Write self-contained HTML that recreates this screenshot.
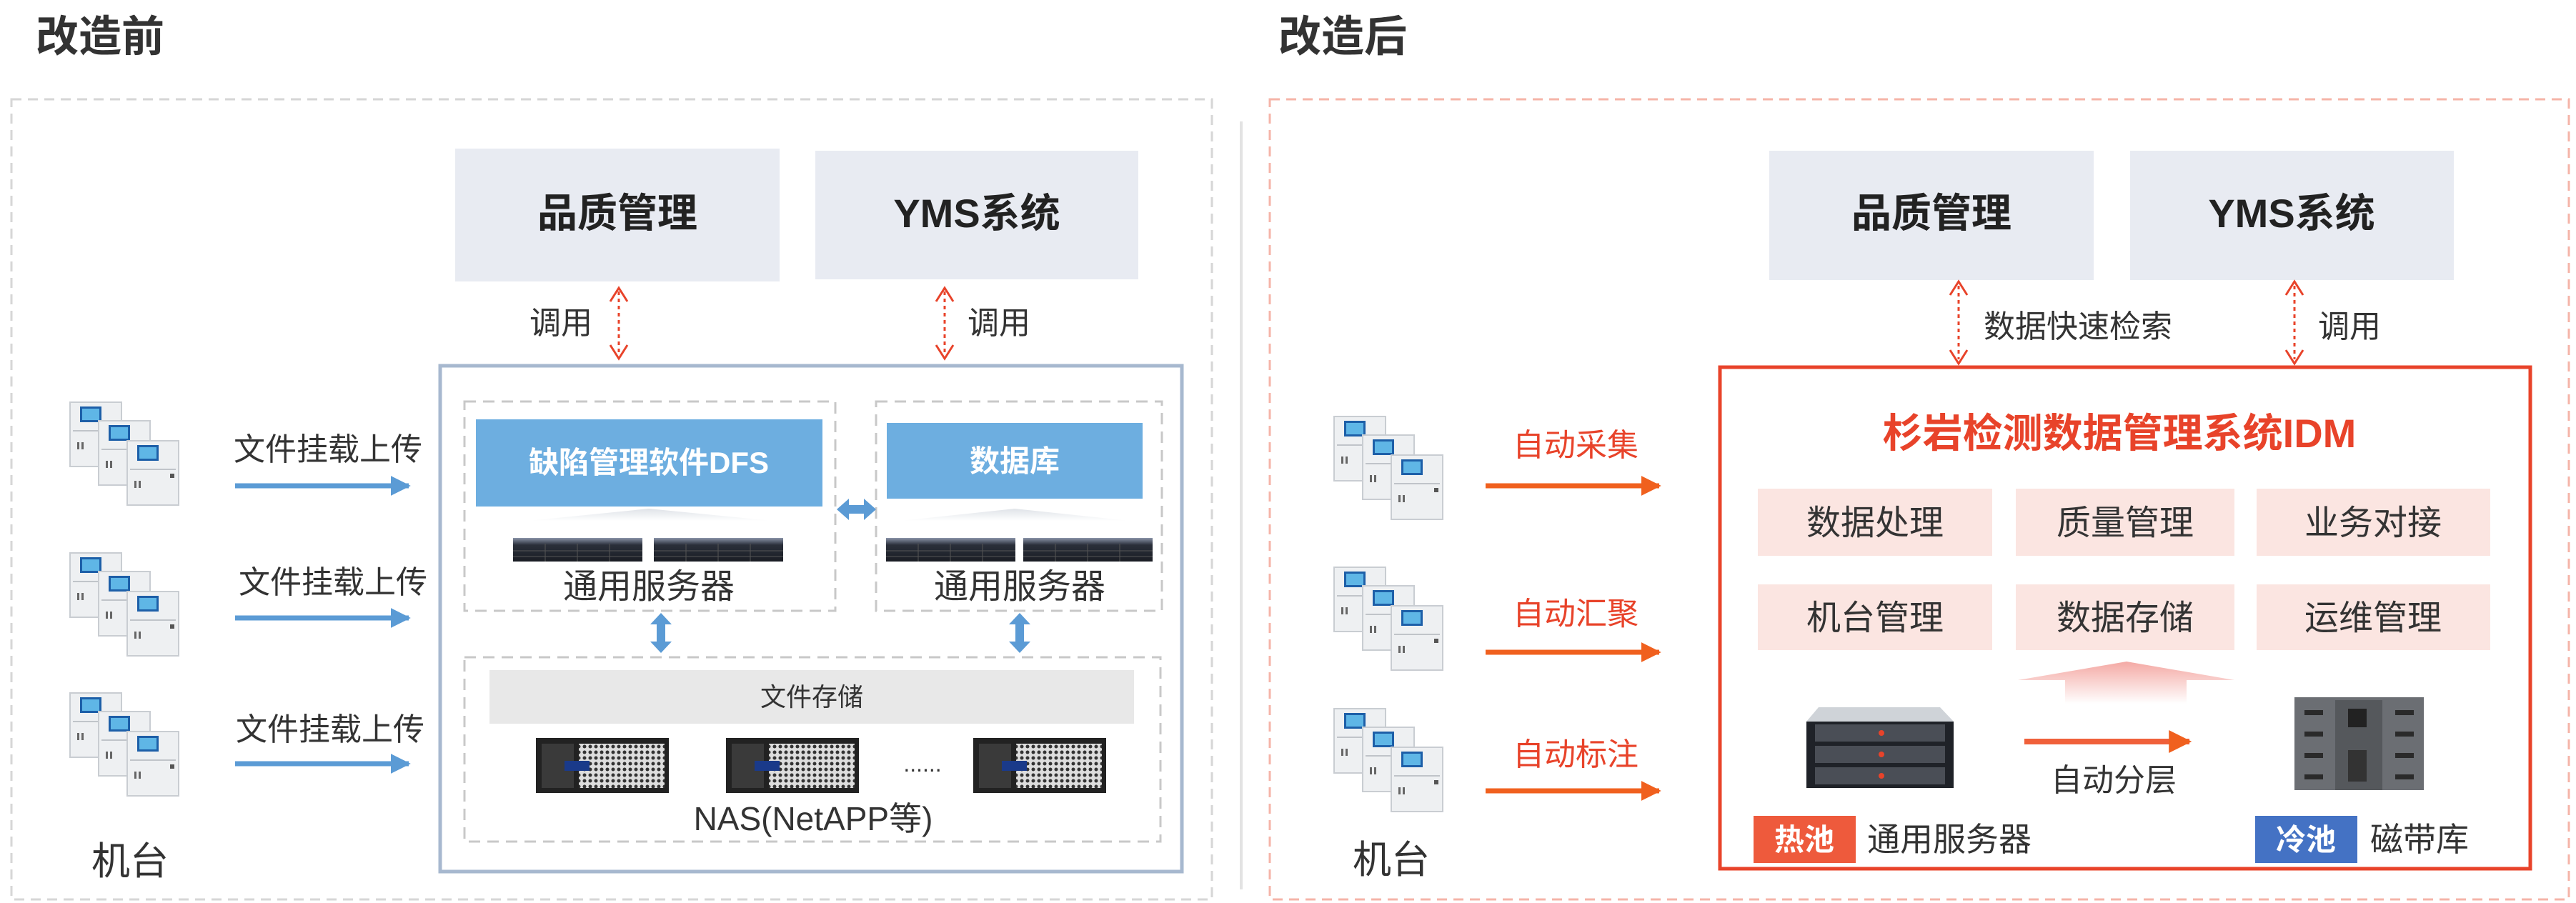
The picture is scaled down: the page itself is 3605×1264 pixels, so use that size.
<!DOCTYPE html>
<html><head><meta charset="utf-8"><style>
html,body{margin:0;padding:0;background:#fff;}
svg{display:block;}
text{font-family:"Liberation Sans","Noto Sans CJK SC",sans-serif;}
</style></head><body>
<svg width="3605" height="1264" viewBox="0 0 3605 1264" xmlns="http://www.w3.org/2000/svg">
<defs>
 <g id="cab">
  <rect x="0" y="0" width="72" height="90" fill="#eef0f2" stroke="#c9cdd2" stroke-width="2"/>
  <rect x="14" y="6" width="30" height="22" fill="#1d5fa8"/>
  <rect x="17" y="9" width="24" height="16" fill="#5fb6e6"/>
  <line x1="4" y1="40" x2="68" y2="40" stroke="#c0c4c9" stroke-width="2"/>
  <rect x="10" y="56" width="3" height="10" fill="#666"/><rect x="16" y="56" width="3" height="10" fill="#666"/>
  <rect x="60" y="46" width="6" height="6" fill="#555"/>
 </g>
 <g id="mach">
  <use href="#cab" x="0" y="0"/><use href="#cab" x="40" y="26"/><use href="#cab" x="80" y="54"/>
 </g>
 <marker id="bl" viewBox="0 0 10 10" refX="9" refY="5" markerWidth="4" markerHeight="4" orient="auto"><path d="M0,0L10,5L0,10z" fill="#5b9bd5"/></marker>
 <marker id="or" viewBox="0 0 10 10" refX="9" refY="5" markerWidth="4" markerHeight="4" orient="auto"><path d="M0,0L10,5L0,10z" fill="#f0601e"/></marker>
 <linearGradient id="srv" x1="0" y1="0" x2="0" y2="1"><stop offset="0" stop-color="#8a93a8"/><stop offset="0.3" stop-color="#2a2f3a"/><stop offset="1" stop-color="#1a1d24"/></linearGradient>
 <linearGradient id="shd" x1="0" y1="0" x2="0" y2="1"><stop offset="0" stop-color="#dfe3e8"/><stop offset="1" stop-color="#fff"/></linearGradient>
 <linearGradient id="up" x1="0" y1="0" x2="0" y2="1"><stop offset="0" stop-color="#f4a9a4"/><stop offset="1" stop-color="#fff"/></linearGradient>
 <pattern id="mesh" width="8" height="8" patternUnits="userSpaceOnUse"><rect width="8" height="8" fill="#ddd"/><circle cx="4" cy="4" r="2.5" fill="#333"/></pattern>
 <g id="nas">
  <rect x="0" y="0" width="186" height="77" fill="#222"/>
  <rect x="60" y="8" width="120" height="62" fill="url(#mesh)"/>
  <rect x="8" y="8" width="45" height="62" fill="#3a3a3a"/>
  <rect x="40" y="32" width="35" height="14" fill="#1a3a8a"/>
 </g>
 <g id="rack">
  <rect x="0" y="0" width="181" height="33" fill="url(#srv)"/>
  <g stroke="#555" stroke-width="1"><line x1="0" y1="18" x2="181" y2="18"/><line x1="0" y1="26" x2="181" y2="26"/><line x1="45" y1="8" x2="45" y2="33"/><line x1="90" y1="8" x2="90" y2="33"/><line x1="135" y1="8" x2="135" y2="33"/></g>
 </g>
</defs>

<!-- Titles -->
<text x="50" y="72" font-size="60" font-weight="bold" fill="#333">改造前</text>
<text x="1789" y="72" font-size="60" font-weight="bold" fill="#333">改造后</text>

<!-- Outer dashed -->
<rect x="16" y="139" width="1680" height="1120" fill="none" stroke="#d6d6d6" stroke-width="3" stroke-dasharray="14 9"/>
<line x1="1737" y1="170" x2="1737" y2="1245" stroke="#e3e3e3" stroke-width="4"/>
<rect x="1777" y="139" width="1818" height="1120" fill="none" stroke="#f5b4a8" stroke-width="3" stroke-dasharray="14 9"/>

<!-- LEFT -->
<rect x="637" y="208" width="454" height="186" fill="#e8ebf2"/>
<text x="864" y="318" font-size="56" font-weight="bold" fill="#222" text-anchor="middle">品质管理</text>
<rect x="1141" y="211" width="452" height="180" fill="#e8ebf2"/>
<text x="1367" y="318" font-size="56" font-weight="bold" fill="#222" text-anchor="middle">YMS系统</text>

<g stroke="#e8432a" stroke-width="3" fill="none">
 <line x1="866" y1="408" x2="866" y2="497" stroke-dasharray="5 5"/>
 <path d="M854,422L866,403L878,422M854,483L866,502L878,483"/>
 <line x1="1322" y1="408" x2="1322" y2="497" stroke-dasharray="5 5"/>
 <path d="M1310,422L1322,403L1334,422M1310,483L1322,502L1334,483"/>
</g>
<text x="785" y="467" font-size="44" fill="#333" text-anchor="middle">调用</text>
<text x="1398" y="467" font-size="44" fill="#333" text-anchor="middle">调用</text>

<rect x="616" y="512" width="1038" height="708" fill="none" stroke="#a7b8cf" stroke-width="5"/>
<rect x="650" y="562" width="519" height="293" fill="none" stroke="#c8c8c8" stroke-width="3" stroke-dasharray="16 10"/>
<rect x="1226" y="562" width="400" height="293" fill="none" stroke="#c8c8c8" stroke-width="3" stroke-dasharray="16 10"/>
<rect x="666" y="587" width="485" height="122" fill="#6daee0"/>
<text x="908" y="662" font-size="42" font-weight="bold" fill="#fff" text-anchor="middle">缺陷管理软件DFS</text>
<rect x="1241" y="592" width="358" height="106" fill="#6daee0"/>
<text x="1420" y="660" font-size="42" font-weight="bold" fill="#fff" text-anchor="middle">数据库</text>
<path d="M740,729 L908,712 L1080,729 Z" fill="url(#shd)"/>
<path d="M1260,729 L1420,712 L1580,729 Z" fill="url(#shd)"/>
<use href="#rack" x="718" y="753"/><use href="#rack" x="915" y="753"/>
<use href="#rack" x="1240" y="753"/><use href="#rack" x="1432" y="753"/>
<text x="908" y="837" font-size="48" fill="#333" text-anchor="middle">通用服务器</text>
<text x="1427" y="837" font-size="48" fill="#333" text-anchor="middle">通用服务器</text>

<!-- blue double arrows -->
<g fill="#5b9bd5">
 <path d="M1171,713 L1188,698 L1188,707 L1209,707 L1209,698 L1226,713 L1209,728 L1209,719 L1188,719 L1188,728 Z"/>
 <path d="M925,858 L940,874 L931,874 L931,898 L940,898 L925,914 L910,898 L919,898 L919,874 L910,874 Z"/>
 <path d="M1427,858 L1442,874 L1433,874 L1433,898 L1442,898 L1427,914 L1412,898 L1421,898 L1421,874 L1412,874 Z"/>
</g>

<rect x="650" y="920" width="974" height="258" fill="none" stroke="#c8c8c8" stroke-width="3" stroke-dasharray="16 10"/>
<rect x="685" y="938" width="902" height="75" fill="#e8e8e8"/>
<text x="1136" y="988" font-size="36" fill="#333" text-anchor="middle">文件存储</text>
<use href="#nas" x="750" y="1033"/><use href="#nas" x="1016" y="1033"/><use href="#nas" x="1362" y="1033"/>
<text x="1291" y="1080" font-size="32" fill="#333" text-anchor="middle">......</text>
<text x="1138" y="1162" font-size="46" fill="#333" text-anchor="middle">NAS(NetAPP等)</text>

<use href="#mach" x="98" y="563"/><use href="#mach" x="98" y="774"/><use href="#mach" x="98" y="970"/>
<text x="459" y="644" font-size="44" fill="#333" text-anchor="middle">文件挂载上传</text>
<text x="466" y="830" font-size="44" fill="#333" text-anchor="middle">文件挂载上传</text>
<text x="462" y="1036" font-size="44" fill="#333" text-anchor="middle">文件挂载上传</text>
<g stroke="#5b9bd5" stroke-width="7">
 <line x1="329" y1="680" x2="572" y2="680" marker-end="url(#bl)"/>
 <line x1="329" y1="865" x2="572" y2="865" marker-end="url(#bl)"/>
 <line x1="329" y1="1069" x2="572" y2="1069" marker-end="url(#bl)"/>
</g>
<text x="182" y="1224" font-size="54" fill="#333" text-anchor="middle">机台</text>

<!-- RIGHT -->
<rect x="2476" y="211" width="454" height="181" fill="#e8ebf2"/>
<text x="2703" y="318" font-size="56" font-weight="bold" fill="#222" text-anchor="middle">品质管理</text>
<rect x="2981" y="211" width="453" height="181" fill="#e8ebf2"/>
<text x="3207" y="318" font-size="56" font-weight="bold" fill="#222" text-anchor="middle">YMS系统</text>
<g stroke="#e8432a" stroke-width="3" fill="none">
 <line x1="2741" y1="400" x2="2741" y2="503" stroke-dasharray="5 5"/>
 <path d="M2729,413L2741,394L2753,413M2729,490L2741,509L2753,490"/>
 <line x1="3211" y1="400" x2="3211" y2="503" stroke-dasharray="5 5"/>
 <path d="M3199,413L3211,394L3223,413M3199,490L3211,509L3223,490"/>
</g>
<text x="2908" y="472" font-size="44" fill="#333" text-anchor="middle">数据快速检索</text>
<text x="3288" y="472" font-size="44" fill="#333" text-anchor="middle">调用</text>

<rect x="2407" y="514" width="1134" height="702" fill="none" stroke="#e8432a" stroke-width="5"/>
<text x="2966" y="626" font-size="56" font-weight="bold" fill="#e8432a" text-anchor="middle">杉岩检测数据管理系统IDM</text>
<g fill="#fbe5e1">
 <rect x="2460" y="684" width="328" height="94"/><rect x="2821" y="684" width="306" height="94"/><rect x="3158" y="684" width="327" height="94"/>
 <rect x="2460" y="818" width="328" height="92"/><rect x="2821" y="818" width="306" height="92"/><rect x="3158" y="818" width="327" height="92"/>
</g>
<g font-size="48" fill="#333" text-anchor="middle">
 <text x="2624" y="748">数据处理</text><text x="2974" y="748">质量管理</text><text x="3321" y="748">业务对接</text>
 <text x="2624" y="881">机台管理</text><text x="2974" y="881">数据存储</text><text x="3321" y="881">运维管理</text>
</g>
<path d="M2824,952 L2976,926 L3127,952 L3060,952 L3060,985 L2890,985 L2890,952 Z" fill="url(#up)"/>

<!-- hot server -->
<g>
 <path d="M2545,990 L2715,990 L2734,1010 L2528,1010 Z" fill="#cfd3d8"/>
 <rect x="2528" y="1010" width="206" height="93" fill="#1f2228"/>
 <rect x="2540" y="1014" width="182" height="24" fill="#4a4e56"/>
 <rect x="2540" y="1044" width="182" height="24" fill="#4a4e56"/>
 <rect x="2540" y="1074" width="182" height="24" fill="#4a4e56"/>
 <circle cx="2633" cy="1026" r="4" fill="#e8432a"/><circle cx="2633" cy="1056" r="4" fill="#e8432a"/><circle cx="2633" cy="1086" r="4" fill="#e8432a"/>
</g>
<line x1="2833" y1="1038" x2="3064" y2="1038" stroke="#f0603a" stroke-width="8" marker-end="url(#or)"/>
<text x="2958" y="1107" font-size="44" fill="#333" text-anchor="middle">自动分层</text>
<!-- tape library -->
<g>
 <rect x="3211" y="976" width="181" height="130" fill="#6b6e73"/>
 <rect x="3268" y="980" width="66" height="126" fill="#55585c"/>
 <rect x="3286" y="992" width="26" height="26" fill="#222"/>
 <rect x="3286" y="1050" width="26" height="44" fill="#333"/>
 <g fill="#2a2a2a">
  <rect x="3225" y="994" width="26" height="7"/><rect x="3225" y="1024" width="26" height="7"/><rect x="3225" y="1054" width="26" height="7"/><rect x="3225" y="1084" width="26" height="7"/>
  <rect x="3352" y="994" width="26" height="7"/><rect x="3352" y="1024" width="26" height="7"/><rect x="3352" y="1054" width="26" height="7"/><rect x="3352" y="1084" width="26" height="7"/>
 </g>
</g>
<rect x="2454" y="1142" width="143" height="66" fill="#ee5a3c"/>
<text x="2525" y="1190" font-size="42" font-weight="bold" fill="#fff" text-anchor="middle">热池</text>
<text x="2728" y="1191" font-size="46" fill="#333" text-anchor="middle">通用服务器</text>
<rect x="3156" y="1142" width="143" height="66" fill="#4472c4"/>
<text x="3227" y="1190" font-size="42" font-weight="bold" fill="#fff" text-anchor="middle">冷池</text>
<text x="3386" y="1191" font-size="46" fill="#333" text-anchor="middle">磁带库</text>

<use href="#mach" x="1867" y="583"/><use href="#mach" x="1867" y="794"/><use href="#mach" x="1867" y="992"/>
<g font-size="44" fill="#e8432a" text-anchor="middle">
 <text x="2205" y="638">自动采集</text><text x="2205" y="874">自动汇聚</text><text x="2205" y="1071">自动标注</text>
</g>
<g stroke="#f0601e" stroke-width="7">
 <line x1="2079" y1="680" x2="2322" y2="680" marker-end="url(#or)"/>
 <line x1="2079" y1="913" x2="2322" y2="913" marker-end="url(#or)"/>
 <line x1="2079" y1="1107" x2="2322" y2="1107" marker-end="url(#or)"/>
</g>
<text x="1947" y="1222" font-size="54" fill="#333" text-anchor="middle">机台</text>
</svg>
</body></html>
